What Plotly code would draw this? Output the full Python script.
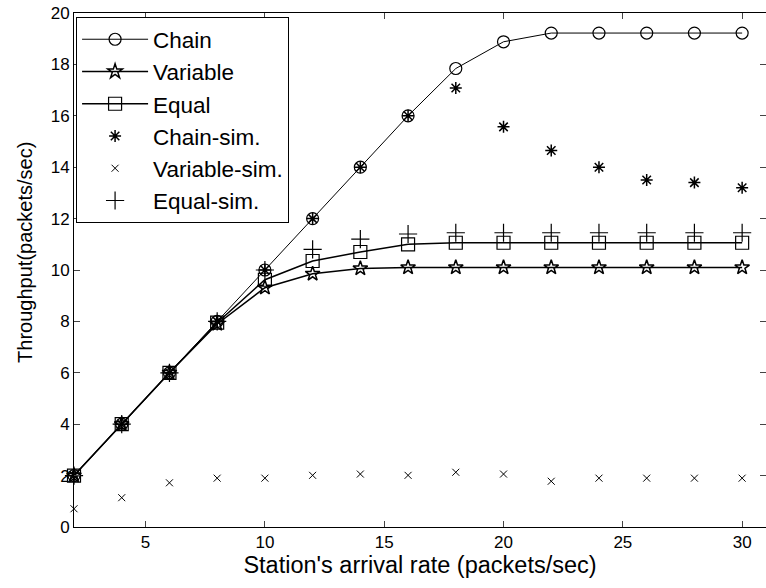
import plotly.graph_objects as go

arrival_rate = [2, 4, 6, 8, 10, 12, 14, 16, 18, 20, 22, 24, 26, 28, 30]

chain = [2, 4, 6, 8, 10, 12, 14, 16, 17.84, 18.88, 19.22, 19.22, 19.22, 19.22, 19.22]
variable = [2, 4, 6, 7.9, 9.31, 9.85, 10.06, 10.1, 10.1, 10.1, 10.1, 10.1, 10.1, 10.1, 10.1]
equal = [2, 4, 6, 7.95, 9.62, 10.35, 10.7, 11.0, 11.06, 11.06, 11.06, 11.06, 11.06, 11.06, 11.06]

chain_sim = [2, 4, 6, 8, 10, 12, 14, 16, 17.08, 15.57, 14.65, 14.0, 13.5, 13.4, 13.2]
variable_sim = [0.71, 1.14, 1.72, 1.9, 1.9, 2.01, 2.06, 2.01, 2.13, 2.06, 1.78, 1.9, 1.9, 1.9, 1.9]
equal_sim = [2, 4, 6, 8, 10.0, 10.8, 11.2, 11.4, 11.45, 11.45, 11.45, 11.45, 11.45, 11.45, 11.45]

x_ticks = [5, 10, 15, 20, 25, 30]
y_ticks = [0, 2, 4, 6, 8, 10, 12, 14, 16, 18, 20]

FONT = "Liberation Sans, Arial, sans-serif"

fig = go.Figure()

fig.add_trace(go.Scatter(
    x=arrival_rate, y=chain, name="Chain", mode="lines+markers",
    line=dict(color="black", width=1),
    marker=dict(symbol="circle-open", size=12, color="black", line=dict(width=1.2)),
    cliponaxis=False))
fig.add_trace(go.Scatter(
    x=arrival_rate, y=variable, name="Variable", mode="lines+markers",
    line=dict(color="black", width=1.5),
    marker=dict(symbol="star-open", size=11, color="black", line=dict(width=1.5)),
    cliponaxis=False))
fig.add_trace(go.Scatter(
    x=arrival_rate, y=equal, name="Equal", mode="lines+markers",
    line=dict(color="black", width=1.5),
    marker=dict(symbol="square-open", size=13, color="black", line=dict(width=1.2)),
    cliponaxis=False))
fig.add_trace(go.Scatter(
    x=arrival_rate, y=chain_sim, name="Chain-sim.", mode="markers",
    marker=dict(symbol="asterisk-open", size=10, color="black", line=dict(width=1.5, color="black")),
    cliponaxis=False))
fig.add_trace(go.Scatter(
    x=arrival_rate, y=variable_sim, name="Variable-sim.", mode="markers",
    marker=dict(symbol="x-thin-open", size=7, color="black", line=dict(width=1, color="black")),
    cliponaxis=False))
fig.add_trace(go.Scatter(
    x=arrival_rate, y=equal_sim, name="Equal-sim.", mode="markers",
    marker=dict(symbol="cross-thin-open", size=13, color="black", line=dict(width=1.2, color="black")),
    cliponaxis=False))

fig.update_layout(
    width=766, height=588,
    margin=dict(l=74, r=0, t=13, b=61),
    paper_bgcolor="white", plot_bgcolor="white",
    font=dict(family=FONT, color="black", size=17),
    showlegend=True,
    legend=dict(
        x=0.003, y=0.992, xanchor="left", yanchor="top",
        bgcolor="white", bordercolor="black", borderwidth=1,
        font=dict(family=FONT, size=22.5, color="black"),
        itemwidth=66, tracegroupgap=0,
    ),
    xaxis=dict(
        range=[2, 31], tickvals=x_ticks, ticks="inside", ticklen=6,
        showline=True, linecolor="black", linewidth=1, mirror="ticks",
        showgrid=False, zeroline=False,
        tickfont=dict(family=FONT, size=17, color="black"),
        title=dict(text="Station's arrival rate (packets/sec)",
                   font=dict(family=FONT, size=23.5, color="black"), standoff=4),
    ),
    yaxis=dict(
        range=[0, 20], tickvals=y_ticks, ticks="inside", ticklen=6,
        showline=True, linecolor="black", linewidth=1, mirror="ticks",
        showgrid=False, zeroline=False,
        tickfont=dict(family=FONT, size=17, color="black"),
    ),
    annotations=[dict(
        text="Throughput(packets/sec)", textangle=-90,
        xref="paper", yref="paper", x=-0.071, y=0.535,
        xanchor="center", yanchor="middle", showarrow=False,
        font=dict(family=FONT, size=20, color="black"),
    )],
)

fig.write_html(
    "out.html",
    config={"displayModeBar": False},
    post_script="document.body.style.margin='0px';document.body.style.overflow='hidden';",
)
